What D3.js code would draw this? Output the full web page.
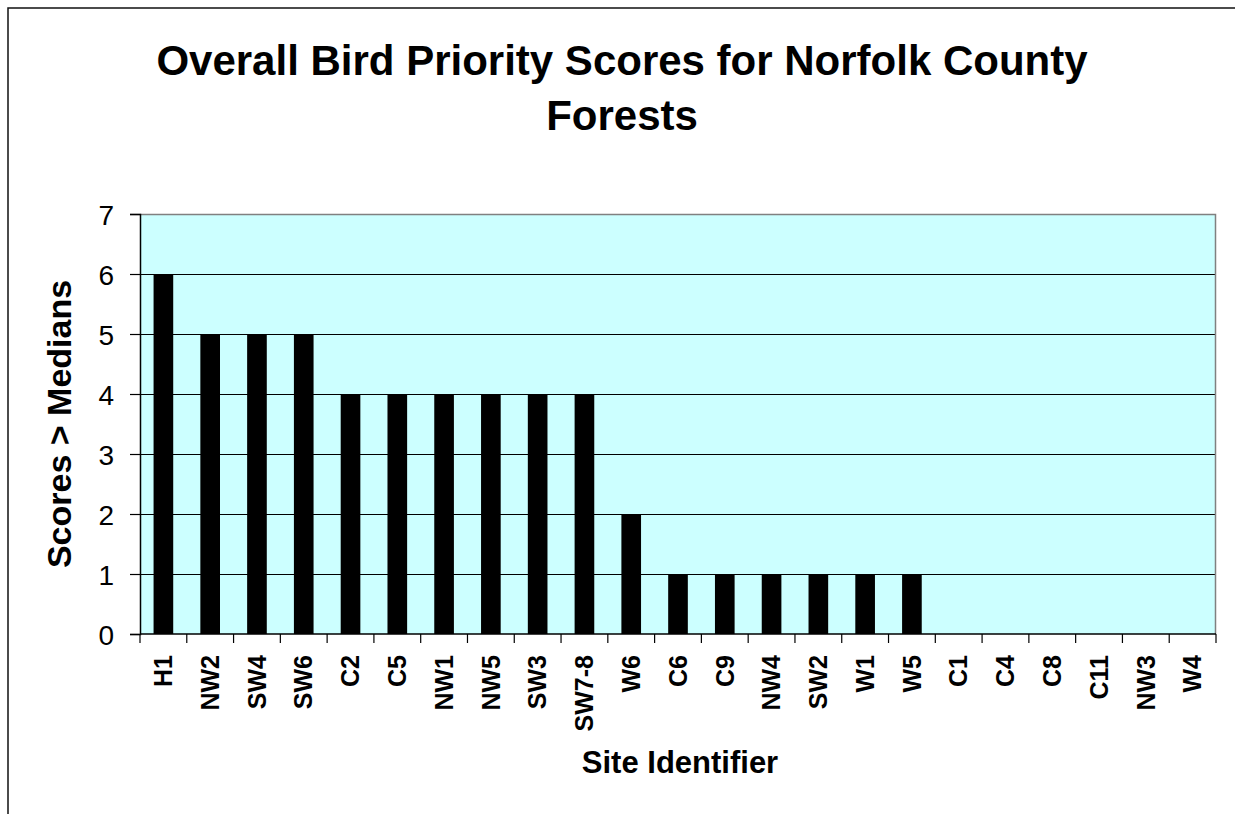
<!DOCTYPE html>
<html><head><meta charset="utf-8">
<script src="https://cdn.jsdelivr.net/npm/d3@7"></script>
<style>
html,body{margin:0;padding:0;background:#fff;}
svg{display:block;font-family:"Liberation Sans",Arial,sans-serif;}
</style></head>
<body><svg id="c" width="1235" height="814"></svg>
<script>
const categories = ["H1","NW2","SW4","SW6","C2","C5","NW1","NW5","SW3","SW7-8","W6","C6","C9","NW4","SW2","W1","W5","C1","C4","C8","C11","NW3","W4"];
const scores = [6,5,5,5,4,4,4,4,4,4,2,1,1,1,1,1,1,0,0,0,0,0,0];
const yTicks = [0,1,2,3,4,5,6,7];
const titleLines = ["Overall Bird Priority Scores for Norfolk County","Forests"];

const svg = d3.select("#c");
const m = {left:140, right:1216, top:214, bottom:634};

// outer chart border
svg.append("rect").attr("x",8).attr("y",8).attr("width",1240).attr("height",820)
  .attr("fill","none").attr("stroke","#111").attr("stroke-width",1.5);

const pIn = 0.58;
const x = d3.scaleBand().domain(categories).range([m.left,m.right]).paddingInner(pIn).paddingOuter(pIn/2);
const y = d3.scaleLinear().domain([0,7]).range([m.bottom,m.top]);

// plot background
svg.append("rect").attr("x",m.left).attr("y",m.top).attr("width",m.right-m.left).attr("height",m.bottom-m.top)
  .attr("fill","#CCFFFF");

// gridlines
svg.append("g").selectAll("line").data(yTicks.filter(t=>t>0 && t<7)).join("line")
  .attr("x1",m.left).attr("x2",m.right).attr("y1",d=>Math.round(y(d))+0.5).attr("y2",d=>Math.round(y(d))+0.5)
  .attr("stroke","#000").attr("stroke-width",1);

// plot border top/right grey
svg.append("path").attr("d",`M${m.left},${m.top+0.5}H${m.right-0.5}V${m.bottom}`)
  .attr("fill","none").attr("stroke","#808080").attr("stroke-width",1.5);

// bars
svg.append("g").selectAll("rect").data(categories).join("rect")
  .attr("x",d=>x(d)).attr("width",x.bandwidth())
  .attr("y",(d,i)=>y(scores[i])).attr("height",(d,i)=>y(0)-y(scores[i]))
  .attr("fill","#000");

// y axis
const yAxis = d3.axisLeft(y).tickValues(yTicks).tickSize(10).tickPadding(16).tickFormat(d3.format("d"));
const gy = svg.append("g").attr("transform",`translate(${m.left},0)`).call(yAxis);
gy.select(".domain").attr("stroke","#000").attr("stroke-width",1.5);
gy.selectAll(".tick line").attr("stroke","#000").attr("stroke-width",1.2);
gy.selectAll(".tick text").attr("font-size",28).attr("fill","#000").attr("font-family","Liberation Sans, Arial, sans-serif").attr("dy","0.36em");

// x axis
const step = x.step();
const bounds = categories.map(c=>x(c)-x.paddingInner()*step/2).concat([m.right]);
const gx = svg.append("g");
gx.append("line").attr("x1",m.left).attr("x2",m.right).attr("y1",m.bottom).attr("y2",m.bottom)
  .attr("stroke","#000").attr("stroke-width",1.5);
gx.selectAll("line.t").data(bounds).join("line").attr("class","t")
  .attr("x1",d=>d).attr("x2",d=>d).attr("y1",m.bottom).attr("y2",m.bottom+9)
  .attr("stroke","#000").attr("stroke-width",1.2);
gx.selectAll("text").data(categories).join("text")
  .attr("transform",d=>`translate(${x(d)+x.bandwidth()/2},${m.bottom+21}) rotate(-90)`)
  .attr("text-anchor","end").attr("dy","0.35em")
  .attr("font-size",25).attr("font-weight","bold").attr("fill","#000").text(d=>d);

// titles
const t = svg.append("text").attr("text-anchor","middle").attr("font-size",42).attr("font-weight","bold").attr("fill","#000");
t.selectAll("tspan").data(titleLines).join("tspan").attr("x",622).attr("y",(d,i)=>75+i*55).text(d=>d);

svg.append("text").attr("x",(m.left+m.right)/2+2).attr("y",773).attr("text-anchor","middle")
  .attr("font-size",31).attr("font-weight","bold").attr("fill","#000").text("Site Identifier");

svg.append("text").attr("transform",`translate(71,${(m.top+m.bottom)/2}) rotate(-90)`).attr("text-anchor","middle")
  .attr("font-size",34).attr("font-weight","bold").attr("fill","#000").text("Scores > Medians");
</script></body></html>
